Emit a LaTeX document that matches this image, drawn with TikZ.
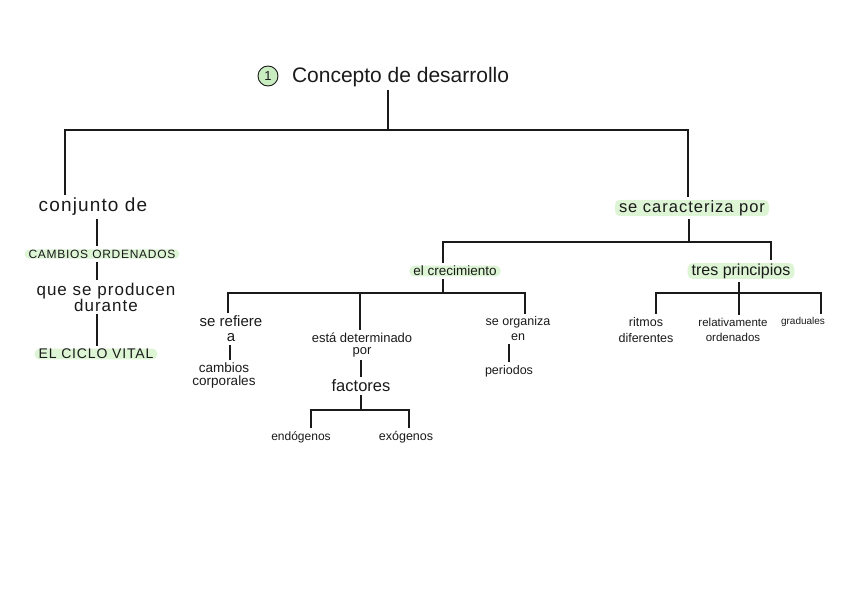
\documentclass[tikz,border=0pt]{standalone}
\usepackage{fontspec}
\setmainfont{Liberation Sans}[LetterSpace=6]
\definecolor{hlg}{HTML}{DDF5D5}
\definecolor{circg}{HTML}{C9EDC0}
\definecolor{ink}{HTML}{1A1A1A}
\tikzset{
  txt/.style={inner sep=1.5pt, outer sep=1.5pt, align=center, text=ink},
  hl/.style={txt, fill=hlg, rounded corners=5pt, inner ysep=0.5pt, inner xsep=4pt, outer sep=3pt},
  fs/.style={font=\fontsize{#1}{#1}\selectfont},
  sm/.style 2 args={font=\fontsize{#1}{#2}\selectfont\addfontfeature{LetterSpace=0}},
  link/.style={draw=ink, line width=1.1pt}
}
\begin{document}
\begin{tikzpicture}[x=1pt,y=-1pt]
\useasboundingbox (0,0) rectangle (848,599);
% title
\node[circle, draw=ink, line width=0.9pt, fill=circg, minimum size=20pt, inner sep=0pt, fs=13, text=ink] (num) at (268,76) {1};
\node[txt, anchor=west, sm={21}{22}] (tt) at (289,77) {Concepto de desarrollo};
% left branch
\node[txt, fs=19] (cj) at (93,207) {conjunto de};
\node[hl, fs=12] (cam) at (102,254) {CAMBIOS ORDENADOS};
\node[txt, font=\fontsize{17}{16}\selectfont] (que) at (106,297) {que se producen\\durante};
\node[hl, fs=14] (ecv) at (96,354) {EL CICLO VITAL};
% right branch
\node[hl, fs=16.5] (sc) at (692,208) {se caracteriza por};
\node[hl, sm={13.5}{14}] (cre) at (455,271) {el crecimiento};
\node[hl, sm={16}{16}] (tp) at (741,271) {tres principios};
% crecimiento children
\node[txt, sm={15}{15}] (sr) at (231,329) {se refiere\\a};
\node[txt, sm={13.5}{13}] (cc) at (224,376) {cambios\\corporales};
\node[txt, sm={13}{12}] (ed) at (362,345) {está determinado\\por};
\node[txt, sm={16.5}{16}] (fa) at (361,386) {factores};
\node[txt, sm={12}{12}] (en) at (301,437) {endógenos};
\node[txt, sm={12.5}{12}] (ex) at (406,437) {exógenos};
\node[txt, sm={12.5}{15}] (so) at (518,329) {se organiza\\en};
\node[txt, sm={12.5}{12}] (pe) at (509,371) {periodos};
% principios children
\node[txt, sm={12.5}{16}] (ri) at (646,330) {ritmos\\diferentes};
\node[txt, sm={11.5}{15}] (re) at (733,330) {relativamente\\ordenados};
\node[txt, sm={10}{10}] (gr) at (803,322) {graduales};
% junction coordinates
\coordinate (b0) at (388,130);
\coordinate (bl) at (65,130);
\coordinate (br) at (688,130);
\coordinate (lx) at (97,0);
\coordinate (s1) at (689,242);
\coordinate (ra) at (443,242);
\coordinate (rb) at (771,242);
\coordinate (c1) at (443,293);
\coordinate (ca) at (228,293);
\coordinate (cb) at (360,293);
\coordinate (cz) at (525,293);
\coordinate (sx) at (230,0);
\coordinate (fx) at (361,0);
\coordinate (f1) at (361,410);
\coordinate (fa1) at (311,410);
\coordinate (fb1) at (409,410);
\coordinate (px) at (509,0);
\coordinate (t1) at (739,293);
\coordinate (ta) at (656,293);
\coordinate (tc) at (821,293);
% connectors
\draw[link] (b0 |- tt.south) -- (b0);
\draw[link] (cj.north -| bl) -- (bl) -- (br) -- (br |- sc.north);
\draw[link] (cj.south -| lx) -- (cam.north -| lx);
\draw[link] (cam.south -| lx) -- (que.north -| lx);
\draw[link] (que.south -| lx) -- (ecv.north -| lx);
\draw[link] (s1 |- sc.south) -- (s1);
\draw[link] (cre.north -| ra) -- (ra) -- (rb) -- (rb |- tp.north);
\draw[link] (c1 |- cre.south) -- (c1);
\draw[link] (sr.north -| ca) -- (ca) -- (cz) -- (cz |- so.north);
\draw[link] (cb) -- (cb |- ed.north);
\draw[link] (sr.south -| sx) -- (cc.north -| sx);
\draw[link] (ed.south -| fx) -- (fa.north -| fx);
\draw[link] (fa.south -| f1) -- (f1);
\draw[link] (en.north -| fa1) -- (fa1) -- (fb1) -- (fb1 |- ex.north);
\draw[link] (so.south -| px) -- (pe.north -| px);
\draw[link] (t1 |- tp.south) -- (t1);
\draw[link] (ri.north -| ta) -- (ta) -- (tc) -- (tc |- gr.north);
\draw[link] (t1) -- (t1 |- re.north);
\end{tikzpicture}
\end{document}
